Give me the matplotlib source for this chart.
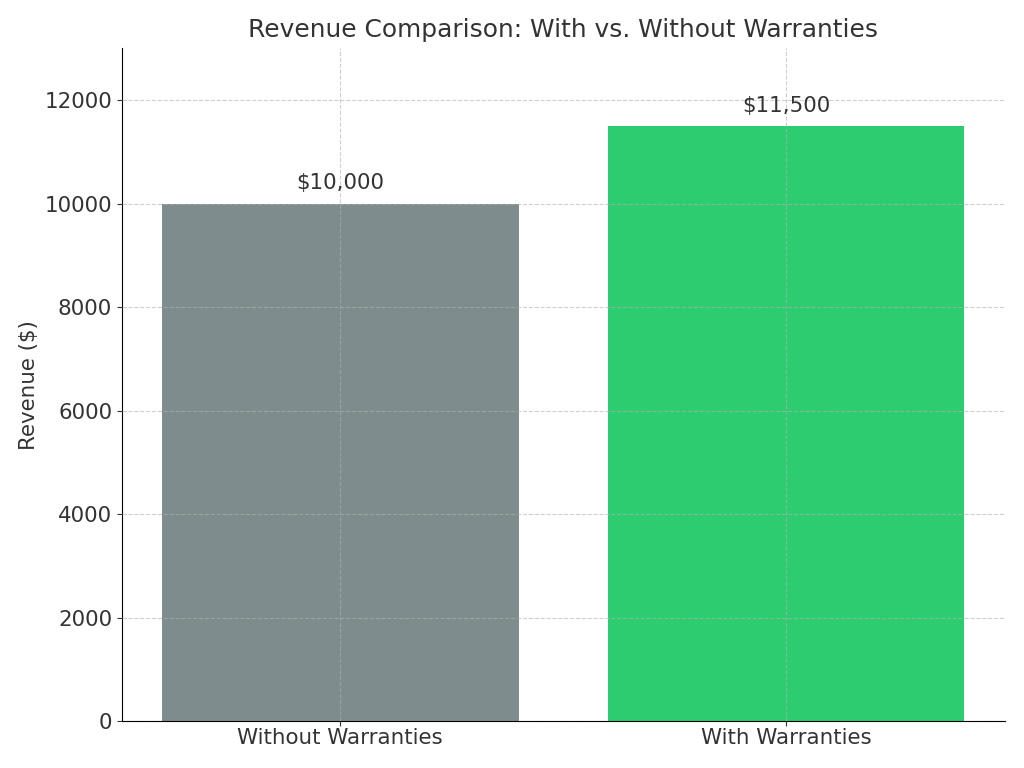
import matplotlib
matplotlib.use("Agg")
import matplotlib.pyplot as plt

categories = ["Without Warranties", "With Warranties"]
revenue = [10000, 11500]
labels = ["$10,000", "$11,500"]
colors = ["#7f8c8d", "#2ecc71"]

plt.rcParams['text.color'] = '#333333'
plt.rcParams['axes.labelcolor'] = '#333333'
plt.rcParams['xtick.color'] = '#333333'
plt.rcParams['ytick.color'] = '#333333'

fig, ax = plt.subplots(figsize=(10.24, 7.68), dpi=100)
fig.subplots_adjust(left=0.119, right=0.981, top=0.937, bottom=0.061)
bars = ax.bar(categories, revenue, color=colors, width=0.8)
for b, lab in zip(bars, labels):
    ax.text(b.get_x() + b.get_width() / 2, b.get_height() + 200, lab,
            ha='center', va='bottom', fontsize=15.4)
ax.set_ylim(0, 13000)
ax.set_title("Revenue Comparison: With vs. Without Warranties", fontsize=17.9, pad=8)
ax.set_ylabel("Revenue ($)", fontsize=15.4)
ax.tick_params(labelsize=15.4)
ax.tick_params(axis='x', pad=1.5)
ax.grid(True, linestyle='--', alpha=0.6)
ax.set_axisbelow(False)
ax.spines['top'].set_visible(False)
ax.spines['right'].set_visible(False)
fig.savefig("out.png", dpi=100)
